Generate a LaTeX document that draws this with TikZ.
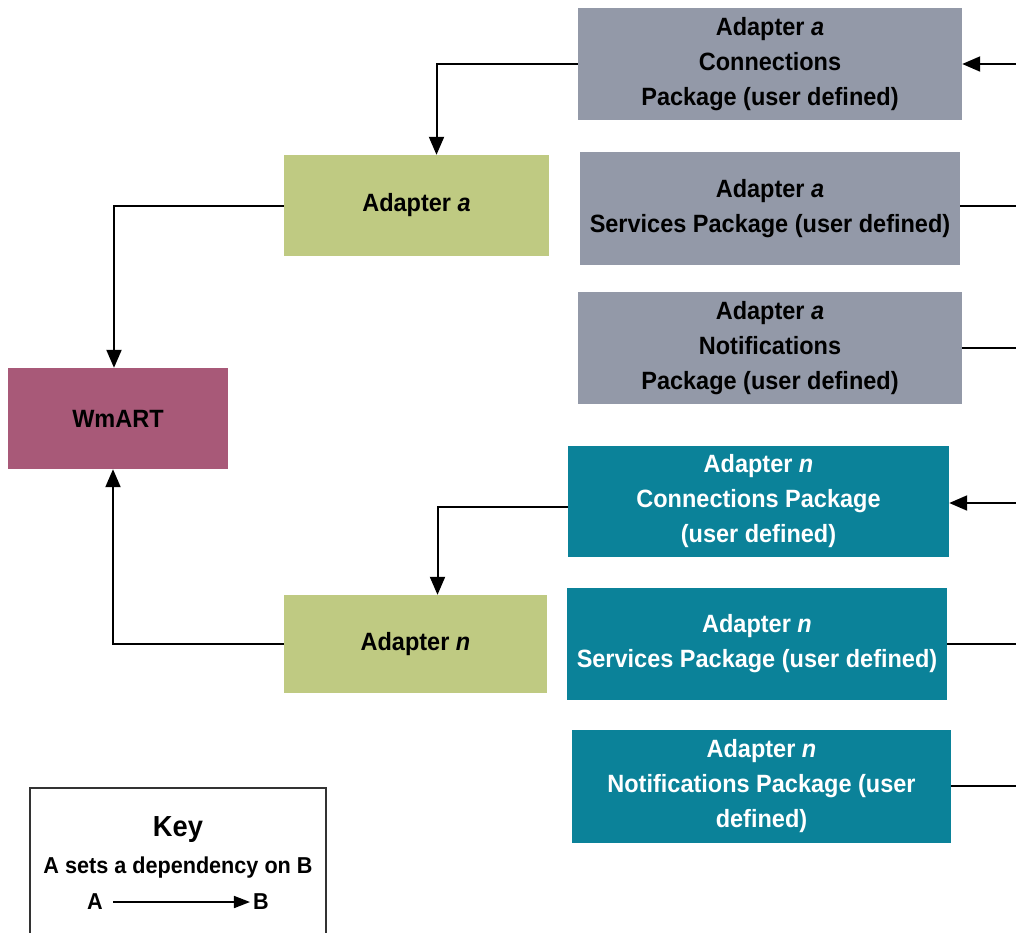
\documentclass[tikz,border=0pt]{standalone}
\usepackage{fontspec}
\setmainfont{Liberation Sans}[FakeStretch=0.94]
\usetikzlibrary{arrows.meta}
\definecolor{grayblue}{HTML}{9399A8}
\definecolor{tealbox}{HTML}{0B8299}
\definecolor{greenbox}{HTML}{BFCA82}
\definecolor{wmart}{HTML}{A85978}
\definecolor{keyline}{HTML}{333333}
\begin{document}
\begin{tikzpicture}[x=1pt,y=-1pt,
  box/.style={rectangle, inner sep=0pt, align=center, font=\fontsize{25}{35}\selectfont\bfseries},
  pkgA/.style={box, fill=grayblue, text=black},
  pkgN/.style={box, fill=tealbox, text=white},
  adapter/.style={box, fill=greenbox, text=black},
  core/.style={box, fill=wmart, text=black},
  dep/.style={line width=2pt, -{Triangle[length=18pt,width=15pt]}},
  plain/.style={line width=2pt},
  keytext/.style={inner sep=0pt, font=\fontsize{23}{26}\selectfont\bfseries}
]
\useasboundingbox (0,0) rectangle (1016,932);
\clip (0,0) rectangle (1016,932);

% package boxes
\node[pkgA, minimum width=384pt, minimum height=112pt] (ca) at (770,64) {Adapter \textit{a}\\Connections\\Package (user defined)};
\node[pkgA, minimum width=380pt, minimum height=113pt] (sa) at (770,208.5) {Adapter \textit{a}\\Services Package (user defined)};
\node[pkgA, minimum width=384pt, minimum height=112pt] (na) at (770,348) {Adapter \textit{a}\\Notifications\\Package (user defined)};
\node[pkgN, minimum width=381pt, minimum height=111pt] (cn) at (758.5,501.5) {Adapter \textit{n}\\Connections Package\\(user defined)};
\node[pkgN, minimum width=380pt, minimum height=112pt] (sn) at (757,644) {Adapter \textit{n}\\Services Package (user defined)};
\node[pkgN, minimum width=379pt, minimum height=113pt] (nn) at (761.5,786.5) {Adapter \textit{n}\\Notifications Package (user\\defined)};

% adapters and core
\node[adapter, minimum width=265pt, minimum height=101pt] (aa) at (416.5,205.5) {Adapter \textit{a}};
\node[adapter, minimum width=263pt, minimum height=98pt] (an) at (415.5,644) {Adapter \textit{n}};
\node[core, minimum width=220pt, minimum height=101pt] (wm) at (118,418.5) {WmART};

% free ends at the right edge
\coordinate (rca) at (1016,64);
\coordinate (rsa) at (1016,206);
\coordinate (rna) at (1016,348);
\coordinate (rcn) at (1016,503);
\coordinate (rsn) at (1016,644);
\coordinate (rnn) at (1016,786);

\draw[dep] (rca) -- (ca.east |- rca);
\draw[plain] (sa.east |- rsa) -- (rsa);
\draw[plain] (na.east |- rna) -- (rna);
\draw[dep] (rcn) -- (cn.east |- rcn);
\draw[plain] (sn.east |- rsn) -- (rsn);
\draw[plain] (nn.east |- rnn) -- (rnn);

% internal dependencies
\draw[dep] (ca.west) -| ([xshift=20pt]aa.north);
\draw[dep] (aa.west) -| ([xshift=-4pt]wm.north);
\draw[dep] ([yshift=-5pt]cn.west) -| ([xshift=22pt]an.north);
\draw[dep] (an.west) -| ([xshift=-5pt]wm.south);

% key
\draw[line width=1.4pt, draw=keyline] (30,945) -- (30,788) -- (326,788) -- (326,945);
\node[keytext, font=\fontsize{29}{30}\selectfont\bfseries] (keyt) at (178,830) {Key};
\node[keytext] (keyd) at (178,868) {A sets a dependency on B};
\node[keytext] (ka) at (95,902) {A};
\node[keytext] (kb) at (261,902) {B};
\draw[line width=1.6pt, -{Triangle[length=16pt,width=12pt]}] ([xshift=10pt]ka.east) -- ([xshift=-3pt]kb.west);
\end{tikzpicture}
\end{document}
